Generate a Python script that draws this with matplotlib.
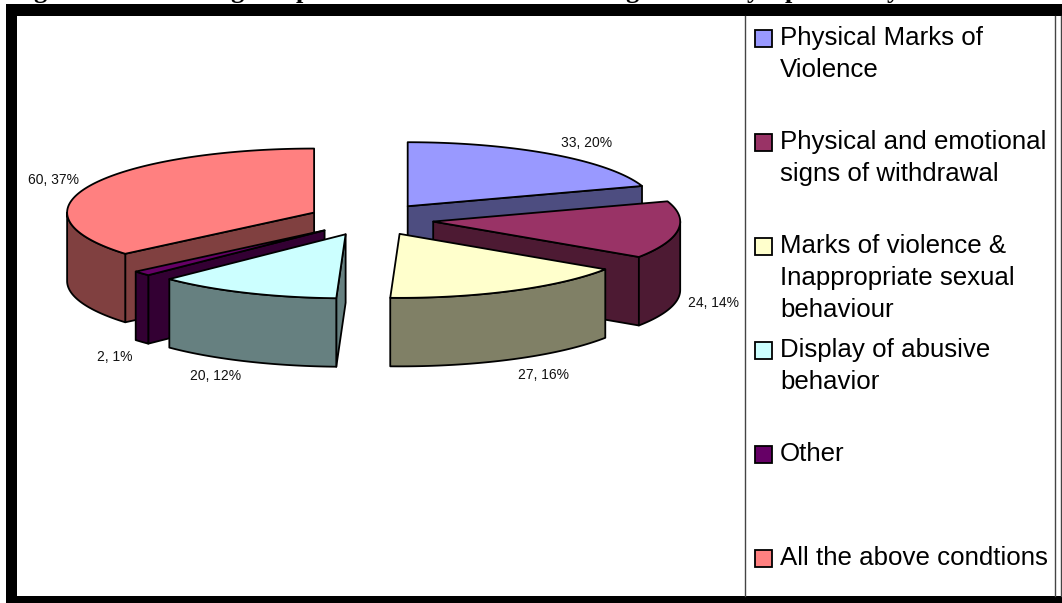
import numpy as np
import matplotlib
matplotlib.use("Agg")
import matplotlib.pyplot as plt
from matplotlib.patches import Rectangle

# Data
categories = ["Physical Marks of\nViolence", "Physical and emotional\nsigns of withdrawal",
              "Marks of violence &\nInappropriate sexual\nbehaviour", "Display of abusive\nbehavior",
              "Other", "All the above condtions"]
values = [33, 24, 27, 20, 2, 60]
percents = [20, 14, 16, 12, 1, 37]
colors = ["#9999FF", "#993366", "#FFFFCC", "#CCFFFF", "#660066", "#FF8080"]
label_pos = [(587, 143), (713, 303), (543, 375), (216, 376), (115, 357), (54, 180)]
# only the tails of the caption above the frame are left in the picture
caption_tails = [("g", 40), ("g", 237), ("p", 303), ("g", 632), ("y", 753), ("p", 792), ("y", 893)]

# pie geometry in pixels
cx, cy = 371, 219.4
rx, ry = 247, 64
depth = 68.5
explode = 0.254

plt.rcParams["font.family"] = ["Liberation Sans", "DejaVu Sans"]

fig = plt.figure(figsize=(10.62, 6.03), dpi=100)
ax = fig.add_axes([0, 0, 1, 1])
ax.set_xlim(0, 1062)
ax.set_ylim(603, 0)
ax.axis("off")


def point(theta, x0, y0):
    # theta in degrees, clockwise from 12 o'clock
    t = np.radians(theta)
    return x0 + rx * np.sin(t), y0 - ry * np.cos(t)


def shade(color):
    rgb = np.array(matplotlib.colors.to_rgb(color))
    return tuple(rgb * 0.5)


def draw_slice(start, end, color):
    mid = (start + end) / 2
    x0, y0 = point(mid, 0, 0)
    x0 = cx + x0 * explode
    y0 = cy + y0 * explode
    dark = shade(color)
    style = dict(edgecolor="black", linewidth=1.3, joinstyle="round")

    # cut faces
    if start > 180:
        px, py = point(start, x0, y0)
        ax.fill([x0, px, px, x0], [y0, py, py + depth, y0 + depth], facecolor=dark, **style)
    if end < 180:
        px, py = point(end, x0, y0)
        ax.fill([x0, px, px, x0], [y0, py, py + depth, y0 + depth], facecolor=dark, **style)

    # outer rim, only the front half shows
    a = max(start, 90)
    b = min(end, 270)
    if a < b:
        th = np.linspace(a, b, 60)
        px, py = point(th, x0, y0)
        ax.fill(np.r_[px, px[::-1]], np.r_[py, py[::-1] + depth], facecolor=dark, **style)

    # top
    th = np.linspace(start, end, 120)
    px, py = point(th, x0, y0)
    ax.fill(np.r_[x0, px], np.r_[y0, py], facecolor=color, **style)


fractions = np.array(values) / sum(values) * 360
ends = np.cumsum(fractions)
starts = ends - fractions

# back slices first
for i in [5, 0, 4, 1, 3, 2]:
    draw_slice(starts[i], ends[i], colors[i])

for v, p, pos in zip(values, percents, label_pos):
    ax.text(pos[0], pos[1], f"{v}, {p}%", fontsize=10, ha="center", va="center", color="#111111")

# legend
legend_y = [38, 142, 246, 350, 454, 558]
for name, color, y in zip(categories, colors, legend_y):
    ax.add_patch(Rectangle((754.5, y - 8.5), 17, 17, facecolor=color, edgecolor="black", linewidth=1.3))
    for k, line in enumerate(name.split("\n")):
        ax.text(780, y + k * 32, line, fontsize=18.6, ha="left", va="center", color="black")

# frame
ax.plot([745, 745], [16, 596], color="#444444", linewidth=1)
ax.plot([1055, 1055], [16, 596], color="#444444", linewidth=1)
ax.plot([1061, 1061], [16, 596], color="#444444", linewidth=1)
ax.add_patch(Rectangle((6, 4), 1056, 12, facecolor="black", edgecolor="none"))
ax.add_patch(Rectangle((6, 4), 11, 599, facecolor="black", edgecolor="none"))
ax.add_patch(Rectangle((6, 596), 1056, 7, facecolor="black", edgecolor="none"))

for letter, x in caption_tails:
    ax.text(x, -2, letter, fontsize=19, family="Liberation Serif", weight="bold",
            ha="center", va="baseline", color="black")

fig.savefig("out.png", dpi=100, facecolor="white")
